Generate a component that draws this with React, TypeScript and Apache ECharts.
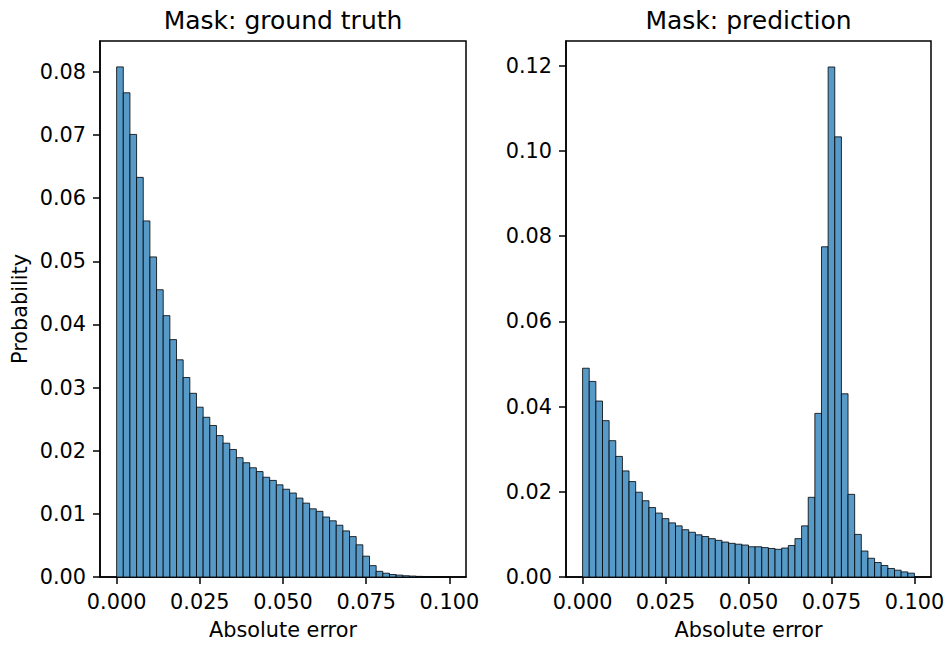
import React, { useEffect, useRef } from "react";
import * as echarts from "echarts";

// Histogram bins: 50 bins of width 0.002 starting at 0
const binStart = 0;
const binWidth = 0.002;

// Probability per bin, mask = ground truth
const groundTruthProb = [
  0.0808, 0.0767, 0.0701, 0.0633, 0.0564, 0.0507, 0.0455, 0.0414, 0.0376, 0.0344,
  0.0316, 0.0291, 0.0269, 0.0253, 0.024, 0.0224, 0.0212, 0.0202, 0.0189, 0.0181,
  0.0173, 0.0167, 0.0158, 0.0153, 0.0146, 0.0139, 0.0133, 0.0125, 0.0117, 0.0108,
  0.0104, 0.0095, 0.0089, 0.0082, 0.0073, 0.0064, 0.0051, 0.0033, 0.0018, 0.0009,
  0.0006, 0.0004, 0.0003, 0.0002, 0.00015, 0.0001, 0.00008, 0.00005, 0.00003, 0.00002,
];

// Probability per bin, mask = prediction
const predictionProb = [
  0.049, 0.0459, 0.0413, 0.0367, 0.032, 0.0283, 0.0249, 0.0224, 0.0199, 0.0179,
  0.0163, 0.015, 0.0137, 0.0127, 0.012, 0.0111, 0.0105, 0.0099, 0.0095, 0.009,
  0.0086, 0.0082, 0.0079, 0.0077, 0.0075, 0.0071, 0.0071, 0.0069, 0.0067, 0.0065,
  0.0068, 0.0074, 0.009, 0.012, 0.0187, 0.0384, 0.0775, 0.1197, 0.1033, 0.043,
  0.0194, 0.01, 0.0061, 0.0044, 0.0034, 0.0027, 0.002, 0.0016, 0.0012, 0.0009,
];

const xTicks = [0, 0.025, 0.05, 0.075, 0.1];
const leftYTicks = [0, 0.01, 0.02, 0.03, 0.04, 0.05, 0.06, 0.07, 0.08];
const rightYTicks = [0, 0.02, 0.04, 0.06, 0.08, 0.1, 0.12];

const titles = ["Mask: ground truth", "Mask: prediction"];
const xLabel = "Absolute error";
const yLabel = "Probability";

const FONT = "DejaVu Sans";
const BAR_FILL = "#5799c7";
const BAR_EDGE = "rgba(0,0,0,0.8)";

function toBins(values: number[]) {
  return values.map((v, i) => [binStart + i * binWidth, binStart + (i + 1) * binWidth, v]);
}

function renderBar(_params: any, api: any) {
  const lo = api.value(0);
  const hi = api.value(1);
  const v = api.value(2);
  const topLeft = api.coord([lo, v]);
  const bottomRight = api.coord([hi, 0]);
  return {
    type: "rect",
    shape: {
      x: topLeft[0],
      y: topLeft[1],
      width: bottomRight[0] - topLeft[0],
      height: bottomRight[1] - topLeft[1],
    },
    style: { fill: BAR_FILL, stroke: BAR_EDGE, lineWidth: 1 },
  };
}

function xAxisFor(gridIndex: number) {
  return {
    type: "value",
    gridIndex,
    min: -0.005,
    max: 0.105,
    name: xLabel,
    nameLocation: "middle",
    nameGap: 42,
    nameTextStyle: { fontFamily: FONT, fontSize: 20.8, color: "#000" },
    splitLine: { show: false },
    axisLine: { show: true, onZero: false, lineStyle: { color: "#000", width: 1.5 } },
    axisTick: {
      show: true,
      inside: false,
      length: 7,
      lineStyle: { color: "#000", width: 1.5 },
      customValues: xTicks,
    },
    axisLabel: {
      show: true,
      margin: 14,
      fontFamily: FONT,
      fontSize: 20.8,
      color: "#000",
      customValues: xTicks,
      formatter: (v: number) => v.toFixed(3),
    },
  };
}

function yAxisFor(gridIndex: number, max: number, ticks: number[], withName: boolean) {
  return {
    type: "value",
    gridIndex,
    min: 0,
    max,
    name: withName ? yLabel : "",
    nameLocation: "middle",
    nameGap: 70,
    nameTextStyle: { fontFamily: FONT, fontSize: 20.8, color: "#000" },
    splitLine: { show: false },
    axisLine: { show: true, onZero: false, lineStyle: { color: "#000", width: 1.5 } },
    axisTick: {
      show: true,
      inside: false,
      length: 7,
      lineStyle: { color: "#000", width: 1.5 },
      customValues: ticks,
    },
    axisLabel: {
      show: true,
      margin: 14,
      fontFamily: FONT,
      fontSize: 20.8,
      color: "#000",
      customValues: ticks,
      formatter: (v: number) => v.toFixed(2),
    },
  };
}

export default function App() {
  const ref = useRef<HTMLDivElement>(null);

  useEffect(() => {
    if (!ref.current) return;
    const chart = echarts.init(ref.current, undefined, { renderer: "svg" });

    const gridBox = { show: true, borderColor: "#000", borderWidth: 1.5, backgroundColor: "transparent" };

    chart.setOption({
      animation: false,
      backgroundColor: "#fff",
      grid: [
        { ...gridBox, left: 100, top: 41, width: 366, height: 540 },
        { ...gridBox, left: 566, top: 41, width: 365, height: 540 },
      ],
      xAxis: [xAxisFor(0), xAxisFor(1)],
      yAxis: [
        yAxisFor(0, 0.0849, leftYTicks, true),
        yAxisFor(1, 0.1258, rightYTicks, false),
      ],
      series: [
        {
          type: "custom",
          xAxisIndex: 0,
          yAxisIndex: 0,
          renderItem: renderBar,
          encode: { x: [0, 1], y: 2 },
          data: toBins(groundTruthProb),
        },
        {
          type: "custom",
          xAxisIndex: 1,
          yAxisIndex: 1,
          renderItem: renderBar,
          encode: { x: [0, 1], y: 2 },
          data: toBins(predictionProb),
        },
      ],
      graphic: [
        {
          type: "text",
          x: 283,
          y: 20,
          style: {
            text: titles[0],
            fontFamily: FONT,
            fontSize: 25,
            fill: "#000",
            align: "center",
            verticalAlign: "middle",
          },
        },
        {
          type: "text",
          x: 748.5,
          y: 20,
          style: {
            text: titles[1],
            fontFamily: FONT,
            fontSize: 25,
            fill: "#000",
            align: "center",
            verticalAlign: "middle",
          },
        },
      ],
    });

    return () => chart.dispose();
  }, []);

  return (
    <div
      ref={ref}
      style={{ position: "fixed", left: 0, top: 0, width: 949, height: 645, background: "#fff" }}
    />
  );
}
